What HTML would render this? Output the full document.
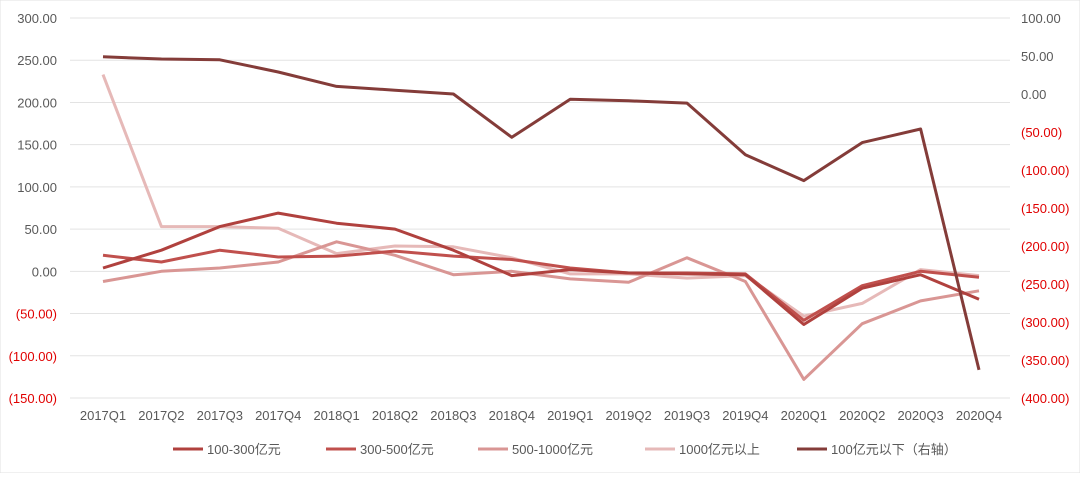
<!DOCTYPE html>
<html><head><meta charset="utf-8"><style>
body{margin:0;background:#fff;font-family:"Liberation Sans","Noto Sans CJK SC",sans-serif}
svg text{font-family:"Liberation Sans","Noto Sans CJK SC",sans-serif}
</style></head><body>
<svg id="chart" width="1080" height="473" xmlns="http://www.w3.org/2000/svg">
<rect x="0" y="0" width="1080" height="473" fill="#fff" stroke="#e0e0e0"/>
<g id="grid"></g><g id="axes"></g><g id="lines"></g><g id="legend"></g>
</svg>
<script>
const categories=["2017Q1","2017Q2","2017Q3","2017Q4","2018Q1","2018Q2","2018Q3","2018Q4","2019Q1","2019Q2","2019Q3","2019Q4","2020Q1","2020Q2","2020Q3","2020Q4"];
const s100to300=[4,25,53,69,57,50,25,-5,2,-2,-3,-4,-63,-20,-4,-33];
const s300to500=[19,11,25,17,18,24,18,14,4,-2,-2,-3,-58,-17,0,-7];
const s500to1000=[-12,0,4,11,35,19,-4,0,-9,-13,16,-12,-128,-62,-35,-23];
const s1000plus=[233,53,53,51,21,30,29,16,-3,-3,-8,-5,-53,-38,2,-5];
const sUnder100=[49,46,45,29,10,5,0,-57,-7,-9,-12,-80,-114,-64,-46,-363];
const leftTicks=[300,250,200,150,100,50,0,-50,-100,-150];
const rightTicks=[100,50,0,-50,-100,-150,-200,-250,-300,-350,-400];
const seriesNames=["100-300亿元","300-500亿元","500-1000亿元","1000亿元以上","100亿元以下（右轴）"];
const NS="http://www.w3.org/2000/svg";
const plotTop=18,plotBot=398,x0=103,x1=979;
const yL=v=>plotTop+(300-v)*(plotBot-plotTop)/450;
const yR=v=>plotTop+(100-v)*(plotBot-plotTop)/500;
const xS=i=>x0+i*(x1-x0)/(categories.length-1);
const fmt=v=>v<0?"("+Math.abs(v).toFixed(2)+")":v.toFixed(2);
function mk(tag,attrs,parent,text){const e=document.createElementNS(NS,tag);for(const k in attrs)e.setAttribute(k,attrs[k]);if(text!==undefined)e.textContent=text;document.getElementById(parent).appendChild(e);return e;}
leftTicks.forEach(v=>{
 const g=mk("line",{x1:70,x2:1010,y1:yL(v),y2:yL(v),stroke:"#e3e3e3","stroke-width":1},"grid");
 
 
 const t=mk("text",{x:57,y:yL(v)+5,"text-anchor":"end","font-size":13,fill:v<0?"#e00000":"#595959"},"axes",fmt(v));
 
 
});
rightTicks.forEach(v=>{
 const t=mk("text",{x:1021,y:yR(v)+5,"text-anchor":"start","font-size":13,fill:v<0?"#e00000":"#595959"},"axes",fmt(v));
 
 
});
categories.forEach((c,i)=>{
 const t=mk("text",{x:xS(i),y:420,"text-anchor":"middle","font-size":13,fill:"#595959"},"axes",c);
 
 
});
const series=[[s1000plus,"#e6b9b8",yL],[s500to1000,"#d99694",yL],[s300to500,"#c0504d",yL],[s100to300,"#b0413e",yL],[sUnder100,"#843c39",yR]];
const colorsLegend=["#b0413e","#c0504d","#d99694","#e6b9b8","#843c39"];
series.forEach((s,k)=>{
 const pts=s[0].map((v,i)=>xS(i).toFixed(1)+","+s[2](v).toFixed(1)).join(" ");
 const p=mk("polyline",{points:pts,fill:"none",stroke:s[1],"stroke-width":3,"stroke-linejoin":"round"},"lines");
 
 
});
const lx=[173,326,478,645,797];
seriesNames.forEach((n,i)=>{
 const l=mk("line",{x1:lx[i],x2:lx[i]+30,y1:449,y2:449,stroke:colorsLegend[i],"stroke-width":3},"legend");
 
 
 const t=mk("text",{x:lx[i]+34,y:454,"font-size":13,fill:"#595959"},"legend",n);
 
 
});
</script>
</body></html>
